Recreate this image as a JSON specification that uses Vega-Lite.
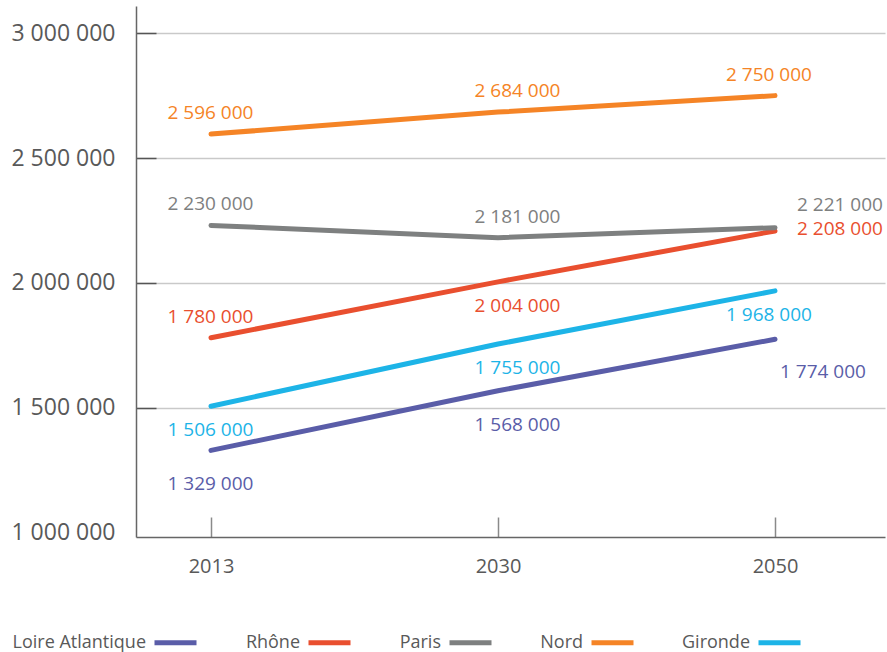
{
  "$schema": "https://vega.github.io/schema/vega-lite/v6.json",
  "width": 749,
  "height": 531,
  "autosize": {"type": "none"},
  "padding": {"left": 136, "top": 6, "right": 2, "bottom": 115},
  "config": {
    "locale": {"number": {"decimal": ",", "thousands": " ", "grouping": [3], "currency": ["", " €"]}},
    "view": {"stroke": null},
    "font": "Open Sans",
    "text": {"font": "Open Sans"}
  },
  "data": {
    "values": [
      {"region": "Loire Atlantique", "year": 2013, "value": 1329000},
      {"region": "Loire Atlantique", "year": 2030, "value": 1568000},
      {"region": "Loire Atlantique", "year": 2050, "value": 1774000},
      {"region": "Rhône", "year": 2013, "value": 1780000},
      {"region": "Rhône", "year": 2030, "value": 2004000},
      {"region": "Rhône", "year": 2050, "value": 2208000},
      {"region": "Paris", "year": 2013, "value": 2230000},
      {"region": "Paris", "year": 2030, "value": 2181000},
      {"region": "Paris", "year": 2050, "value": 2221000},
      {"region": "Nord", "year": 2013, "value": 2596000},
      {"region": "Nord", "year": 2030, "value": 2684000},
      {"region": "Nord", "year": 2050, "value": 2750000},
      {"region": "Gironde", "year": 2013, "value": 1506000},
      {"region": "Gironde", "year": 2030, "value": 1755000},
      {"region": "Gironde", "year": 2050, "value": 1968000}
    ]
  },
  "layer": [
    {
      "mark": {"type": "line", "strokeWidth": 5, "strokeCap": "round", "strokeJoin": "round"},
      "encoding": {
        "x": {
          "field": "year", "type": "quantitative",
          "scale": {"domain": [2008.56, 2013, 2030, 2050, 2057.94], "range": [0, 75, 362, 639, 749], "zero": false, "nice": false},
          "axis": {
            "values": [2013, 2030, 2050], "format": "d", "title": null, "grid": false,
            "domainColor": "#666666", "domainWidth": 1.5,
            "tickColor": "#8a8a8a", "tickWidth": 1.5, "tickSize": -20,
            "labelPadding": 39, "labelFontSize": 20, "labelColor": "#595959", "labelFont": "Open Sans"
          }
        },
        "y": {
          "field": "value", "type": "quantitative",
          "scale": {"domain": [982000, 3109000], "zero": false, "nice": false},
          "axis": {
            "values": [1000000, 1500000, 2000000, 2500000, 3000000], "format": ",d", "title": null,
            "grid": true, "gridColor": "#c9c9c9", "gridWidth": 1.5,
            "gridOpacity": {"condition": {"test": "datum.value < 1100000", "value": 0}, "value": 1},
            "tickColor": "#555555", "tickWidth": 1.5, "tickSize": -20,
            "tickOpacity": {"condition": {"test": "datum.value < 1100000", "value": 0}, "value": 1},
            "domainColor": "#666666", "domainWidth": 1.5,
            "labelPadding": 41, "labelFontSize": 23, "labelColor": "#595959", "labelFont": "Open Sans"
          }
        },
        "color": {
          "field": "region", "type": "nominal",
          "scale": {
            "domain": ["Loire Atlantique", "Rhône", "Paris", "Nord", "Gironde"],
            "range": ["#5a5da8", "#e94f2f", "#7e8080", "#f58426", "#1db4e7"]
          },
          "legend": {
            "title": null, "orient": "none", "legendX": 16, "legendY": 613,
            "direction": "horizontal", "symbolType": "stroke", "symbolSize": 1764,
            "symbolStrokeWidth": 5, "labelFontSize": 18, "labelColor": "#595959",
            "labelFont": "Open Sans", "labelAlign": "right", "labelOffset": -53,
            "columnPadding": 38, "labelLimit": 300
          }
        }
      }
    },
    {
      "encoding": {
        "x": {
          "field": "year", "type": "quantitative",
          "scale": {"domain": [2013, 2030, 2050], "range": [74.5, 381.5, 633], "zero": false, "nice": false},
          "axis": null
        },
        "y": {"field": "value", "type": "quantitative"},
        "color": {"field": "region", "type": "nominal", "legend": null},
        "text": {"field": "value", "type": "quantitative", "format": ",d"}
      },
      "layer": [
        {
          "transform": [{"filter": "datum.region === 'Nord' || (datum.region === 'Paris' && datum.year < 2050) || (datum.region === 'Rhône' && datum.year === 2013)"}],
          "mark": {"type": "text", "fontSize": 19, "dy": -21, "align": "center", "baseline": "middle"}
        },
        {
          "transform": [{"filter": "(datum.region === 'Rhône' && datum.year === 2030) || datum.region === 'Gironde'"}],
          "mark": {"type": "text", "fontSize": 19, "dy": 24, "align": "center", "baseline": "middle"}
        },
        {
          "transform": [{"filter": "datum.region === 'Loire Atlantique' && datum.year < 2050"}],
          "mark": {"type": "text", "fontSize": 19, "dy": 34, "align": "center", "baseline": "middle"}
        },
        {
          "transform": [{"filter": "datum.region === 'Paris' && datum.year === 2050"}],
          "mark": {"type": "text", "fontSize": 19, "dx": 28, "dy": -23, "align": "left", "baseline": "middle"}
        },
        {
          "transform": [{"filter": "datum.region === 'Rhône' && datum.year === 2050"}],
          "mark": {"type": "text", "fontSize": 19, "dx": 28, "dy": -2, "align": "left", "baseline": "middle"}
        },
        {
          "transform": [{"filter": "datum.region === 'Loire Atlantique' && datum.year === 2050"}],
          "mark": {"type": "text", "fontSize": 19, "dx": 11, "dy": 33, "align": "left", "baseline": "middle"}
        }
      ]
    }
  ],
  "resolve": {"scale": {"x": "independent"}}
}
